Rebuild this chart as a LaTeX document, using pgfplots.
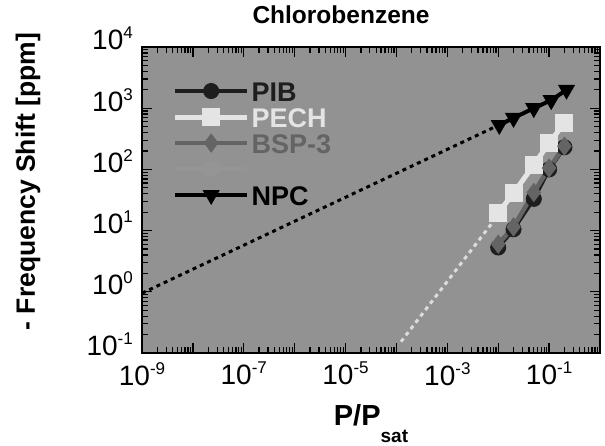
\documentclass[border=0pt]{standalone}
\usepackage{pgfplots}
\pgfplotsset{compat=1.18}
\usepackage{fontspec}
\setmainfont{Liberation Sans}
\definecolor{bg}{RGB}{146,146,146}
\definecolor{ghost}{RGB}{149,149,149}
\definecolor{pib}{RGB}{30,30,30}
\definecolor{pech}{RGB}{228,228,228}
\definecolor{bsp}{RGB}{100,100,100}
\definecolor{pechdot}{RGB}{220,220,220}
\newcommand{\tl}[1]{10\raisebox{11pt}{\fontsize{17}{17}\selectfont #1}}
\begin{document}
\begin{tikzpicture}
\useasboundingbox (-142pt,-93pt) rectangle (463pt,353pt);
\begin{axis}[
 at={(0,0)}, anchor=south west,
 scale only axis, width=458pt, height=306pt,
 xmode=log, ymode=log,
 xmin=1e-9, xmax=1, ymin=0.1, ymax=1e4,
 axis background/.style={fill=bg},
 axis line style={line width=2pt},
 tick style={black, line width=1.3pt},
 major tick length=10pt, minor tick length=6pt,
 tick align=inside,
 xtick={1e-9,1e-8,1e-7,1e-6,1e-5,1e-4,1e-3,1e-2,1e-1,1},
 xticklabels={\tl{-9},,\tl{-7},,\tl{-5},,\tl{-3},,\tl{-1},},
 ytick={0.1,1,10,100,1000,10000},
 yticklabels={\tl{-1},\tl{0},\tl{1},\tl{2},\tl{3},\tl{4}},
 ticklabel style={font=\fontsize{28}{28}\selectfont},
 xticklabel style={anchor=north, inner sep=0pt, yshift=-9pt},
 yticklabel style={anchor=base east, inner sep=0pt, xshift=-9pt, yshift=-3pt},
 title={Chlorobenzene},
 title style={at={(axis description cs:0.4345,1)}, anchor=south, yshift=17pt, inner sep=0pt, font=\fontsize{24.5}{24.5}\selectfont\bfseries},
 ylabel={- Frequency Shift [ppm]},
 ylabel style={at={(axis description cs:-0.249,0.56)}, anchor=center, inner sep=0pt, font=\fontsize{26.5}{26.5}\selectfont\bfseries},
 xlabel={P/P\raisebox{-17pt}{\fontsize{19}{19}\selectfont sat}},
 xlabel style={at={(axis description cs:0.5,0)}, anchor=north, yshift=-51pt, inner sep=0pt, font=\fontsize{29}{29}\selectfont\bfseries},
 legend style={at={(axis description cs:0.060,0.896)}, anchor=north west, draw=none, fill=none,
   font=\fontsize{27}{27}\selectfont\bfseries, row sep=6pt,
   nodes={inner xsep=2pt, inner ysep=0pt, text height=20pt, text depth=0pt}},
 legend cell align=left,
 legend image code/.code={\draw[mark repeat=2,mark phase=2,#1] plot coordinates {(0pt,0pt) (36pt,0pt) (72pt,0pt)};},
]
\addplot[pechdot, line width=3pt, dash pattern=on 4pt off 4pt, forget plot] coordinates {(1.23e-4,0.153) (0.0095,17)};
\addplot[black, line width=3pt, dash pattern=on 4pt off 4pt, forget plot] coordinates {(1e-9,0.95) (0.0098,520)};
\addplot[pib, line width=4pt, mark=*, mark size=6pt, mark options={fill=pib, draw=pib}] coordinates {(0.01,5.3)(0.02,10.5)(0.05,33)(0.1,100)(0.2,230)};
\addlegendentry{\textcolor{pib}{PIB}}
\addplot[pech, line width=5pt, mark=square*, mark size=6.5pt, mark options={fill=pech, draw=pech}] coordinates {(0.01,19.4)(0.02,41)(0.05,118)(0.1,270)(0.2,573)};
\addlegendentry{\textcolor{pech}{PECH}}
\addplot[bsp, line width=4.5pt, mark=diamond*, mark size=6pt, mark options={fill=bsp, draw=bsp}] coordinates {(0.01,6)(0.02,11.5)(0.05,42)(0.1,105)(0.2,240)};
\addlegendentry{\textcolor{bsp}{BSP-3}}
\addlegendimage{ghost, line width=4pt, mark=*, mark size=6pt, mark options={fill=ghost, draw=ghost}}
\addlegendentry{}
\addplot[black, line width=4pt, mark=triangle*, mark size=6pt, mark options={fill=black, draw=black, rotate=180}] coordinates {(0.0105,531)(0.02,692)(0.05,1000)(0.11,1350)(0.22,2000)};
\addlegendentry{NPC}
\end{axis}
\end{tikzpicture}
\end{document}
